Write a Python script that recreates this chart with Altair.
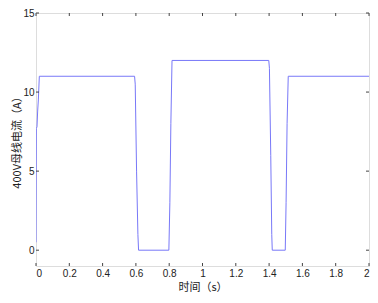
import altair as alt
import pandas as pd

# waveform
t_vals = [0.0, 0.002, 0.006, 0.010, 0.014, 0.020,
          0.592, 0.596, 0.604, 0.612, 0.616,
          0.798, 0.804, 0.810, 0.817,
          1.398, 1.402, 1.410, 1.416, 1.419,
          1.497, 1.502, 1.508, 1.515, 2.0]
i_vals = [0.5, 7.7, 7.8, 8.8, 9.5, 11.0,
          11.0, 10.5, 5.0, 1.0, 0.0,
          0.0, 3.0, 8.0, 12.0,
          12.0, 11.5, 6.0, 1.0, 0.0,
          0.0, 3.0, 8.0, 11.0, 11.0]
x_ticks = [0, 0.2, 0.4, 0.6, 0.8, 1.0, 1.2, 1.4, 1.6, 1.8, 2.0]
y_ticks = [0, 5, 10, 15]

W, H = 333, 253
df = pd.DataFrame({"t": t_vals, "i": i_vals})
xt = pd.DataFrame({"t": x_ticks})
yt = pd.DataFrame({"i": y_ticks})

xs = alt.Scale(domain=[0, 2], nice=False, zero=False)
ys = alt.Scale(domain=[-1, 15], nice=False, zero=False)

lab = dict(labelFont="Liberation Sans", labelFontSize=10, labelColor="#222",
           titleFont="Noto Sans CJK SC", titleFontSize=11, titleFontWeight="normal",
           titleColor="#222", domain=False, ticks=False, grid=False, labelOverlap=False)

xaxis = alt.Axis(values=x_ticks, title="时间（s）", labelPadding=2, titlePadding=3,
                 labelExpr="datum.value == 1 ? '1' : datum.value == 2 ? '2' : datum.value == 0 ? '0' : format(datum.value, '.1f')",
                 **lab)
yaxis = alt.Axis(values=y_ticks, title="400V母线电流（A）", labelPadding=2, titlePadding=0, **lab)

line = alt.Chart(df).mark_line(color="#7878f8", strokeWidth=1, clip=True).encode(
    x=alt.X("t:Q", scale=xs, axis=xaxis),
    y=alt.Y("i:Q", scale=ys, axis=yaxis),
)

tick_style = dict(color="#444", strokeWidth=1)
bt = alt.Chart(xt).mark_rule(**tick_style).encode(x=alt.X("t:Q", scale=xs, axis=xaxis), y=alt.value(H), y2=alt.value(H - 3))
tt = alt.Chart(xt).mark_rule(**tick_style).encode(x=alt.X("t:Q", scale=xs, axis=xaxis), y=alt.value(0), y2=alt.value(3))
lt = alt.Chart(yt).mark_rule(**tick_style).encode(y=alt.Y("i:Q", scale=ys, axis=yaxis), x=alt.value(0), x2=alt.value(3))
rt = alt.Chart(yt).mark_rule(**tick_style).encode(y=alt.Y("i:Q", scale=ys, axis=yaxis), x=alt.value(W), x2=alt.value(W - 3))

chart = alt.layer(line, bt, tt, lt, rt).properties(
    width=W, height=H,
    autosize=alt.AutoSizeParams(type="none"),
    padding={"left": 28, "top": 5, "right": 1, "bottom": 29},
).configure_view(stroke="#555", strokeWidth=1).configure(background="white")

chart.save("out.html", embed_options={"renderer": "svg", "actions": False})
